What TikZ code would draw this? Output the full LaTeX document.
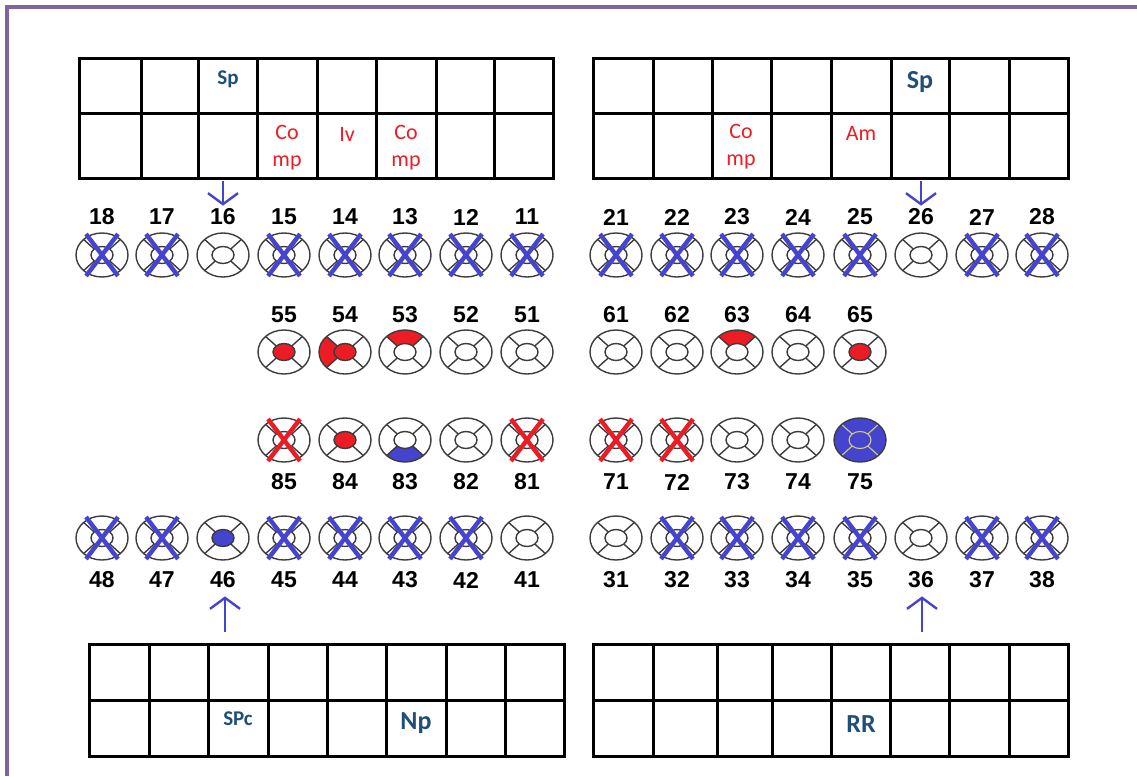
\documentclass[tikz,border=0pt]{standalone}
\usepackage{fontspec}
\setmainfont{Liberation Sans}
\newfontfamily\carlito{Carlito}
\usetikzlibrary{arrows.meta}
\definecolor{dkblue}{RGB}{31,78,121}
\definecolor{mred}{RGB}{237,28,36}
\definecolor{mblue}{RGB}{68,68,208}
\definecolor{purp}{RGB}{128,100,162}
\definecolor{tline}{RGB}{60,60,60}
\definecolor{lightline}{RGB}{205,200,160}
\newcommand\tth[4]{%
  \begin{scope}[shift={(#1,#2)},yscale=-1]
  #3
  \draw[toothline] (0,0) ellipse[x radius=26,y radius=22];
  \draw[toothline] (0,0) ellipse[x radius=11,y radius=8.5];
  \foreach \a in {45,135,225,315}{\draw[toothline] ({11*cos(\a)},{8.5*sin(\a)}) -- ({26*cos(\a)},{22*sin(\a)});}
  #4
  \end{scope}}
\newcommand\bX{\draw[bxline] (-16,21) -- (16,-21) (16,21) -- (-16,-21);}
\newcommand\rX{\draw[rxline] (-16,21) -- (16,-21) (16,21) -- (-16,-21);}
\newcommand\cen[1]{\fill[#1] (0,0) ellipse[x radius=11,y radius=8.5];}
\newcommand\sg[3]{\fill[#1] (#2:26 and 22) arc[start angle=#2,end angle=#3,x radius=26,y radius=22] -- (#3:11 and 8.5) arc[start angle=#3,end angle=#2,x radius=11,y radius=8.5] -- cycle;}
\begin{document}
\begin{tikzpicture}[x=1pt,y=-1pt,
  toothline/.style={draw=tline,line width=1.4pt},
  bxline/.style={draw=mblue,line width=4.4pt},
  rxline/.style={draw=mred,line width=4.4pt},
  num/.style={inner sep=0pt,font=\fontsize{23}{23}\selectfont\bfseries},
  gridline/.style={draw=black,line width=3pt},
  dk/.style={inner sep=0pt,text=dkblue,font=\carlito\bfseries\fontsize{21}{21}\selectfont},
  dkbig/.style={inner sep=0pt,text=dkblue,font=\carlito\bfseries\fontsize{26}{26}\selectfont},
  rd/.style={inner sep=0pt,text=mred,align=center,font=\carlito\fontsize{22}{27}\selectfont},
  arr/.style={draw=mblue,line width=2.4pt,-{Straight Barb[length=11pt,width=30pt]}}]
\useasboundingbox (0,0) rectangle (1137,776);
% border
\draw[purp,line width=3.5pt] (7,776) -- (7,7) -- (1137,7);
% grids
\draw[gridline] (79,59) rectangle (553,178) (79,113) -- (553,113);
\foreach \x in {141,198,257,317,376,436,494} \draw[gridline] (\x,59) -- (\x,178);
\draw[gridline] (593,59) rectangle (1068,178) (593,113) -- (1068,113);
\foreach \x in {653,712,771,831,891,949,1009} \draw[gridline] (\x,59) -- (\x,178);
\draw[gridline] (89,644) rectangle (564,756) (89,700) -- (564,700);
\foreach \x in {149,208,268,327,386,446,505} \draw[gridline] (\x,644) -- (\x,756);
\draw[gridline] (593,644) rectangle (1068,756) (593,700) -- (1068,700);
\foreach \x in {653,717,772,831,890,949,1009} \draw[gridline] (\x,644) -- (\x,756);
% grid texts
\node[dk] (tSpL) at (228,79) {Sp};
\node[dkbig] (tSpR) at (920,82) {Sp};
\node[rd] (tCo1) at (287,148) {Co\\mp};
\node[rd] (tIv) at (347,134) {Iv};
\node[rd] (tCo2) at (406,148) {Co\\mp};
\node[rd] (tCo3) at (741,147) {Co\\mp};
\node[rd] (tAm) at (861,133) {Am};
\node[dk] (tSPc) at (238,719) {SPc};
\node[dkbig] (tNp) at (416,723) {Np};
\node[dkbig] (tRR) at (861,724) {RR};
% upper permanent teeth
\foreach \x in {102,162,284,345,405,466,527,616,677,737,798,860,982,1042} {\tth{\x}{255}{}{\bX}}
\tth{223}{255}{}{}
\tth{921}{255}{}{}
\foreach \n/\x in {18/102,17/162,16/223,15/284,14/345,13/405,12/466,11/527,21/616,22/677,23/737,24/798,25/860,26/921,27/982,28/1042}
  \node[num] (n\n) at (\x,217) {\n};
% upper milk teeth
\tth{284}{352}{\cen{mred}}{}
\tth{345}{352}{\sg{mred}{135}{225}\cen{mred}}{}
\tth{405}{352}{\sg{mred}{45}{135}}{}
\tth{466}{352}{}{}
\tth{527}{352}{}{}
\tth{616}{352}{}{}
\tth{677}{352}{}{}
\tth{737}{352}{\sg{mred}{45}{135}}{}
\tth{798}{352}{}{}
\tth{860}{352}{\cen{mred}}{}
\foreach \n/\x in {55/284,54/345,53/405,52/466,51/527,61/616,62/677,63/737,64/798,65/860}
  \node[num] (n\n) at (\x,315) {\n};
% lower milk teeth
\tth{284}{440}{}{\rX}
\tth{345}{440}{\cen{mred}}{}
\tth{405}{440}{\sg{mblue}{225}{315}}{}
\tth{466}{440}{}{}
\tth{527}{440}{}{\rX}
\tth{616}{440}{}{\rX}
\tth{677}{440}{}{\rX}
\tth{737}{440}{}{}
\tth{798}{440}{}{}
\tth{860}{440}{\fill[mblue] (0,0) ellipse[x radius=26,y radius=22];}{\draw[lightline,line width=1.2pt] (0,0) ellipse[x radius=11,y radius=8.5]; \foreach \a in {45,135,225,315}{\draw[lightline,line width=1.2pt] ({11*cos(\a)},{8.5*sin(\a)}) -- ({25*cos(\a)},{21*sin(\a)});}}
\foreach \n/\x in {85/284,84/345,83/405,82/466,81/527,71/616,72/677,73/737,74/798,75/860}
  \node[num] (n\n) at (\x,482) {\n};
% lower permanent teeth
\foreach \x in {102,162,284,345,405,466,677,737,798,860,982,1042} {\tth{\x}{538}{}{\bX}}
\tth{223}{538}{\cen{mblue}}{}
\tth{527}{538}{}{}
\tth{616}{538}{}{}
\tth{921}{538}{}{}
\foreach \n/\x in {48/102,47/162,46/223,45/284,44/345,43/405,42/466,41/527,31/616,32/677,33/737,34/798,35/860,36/921,37/982,38/1042}
  \node[num] (n\n) at (\x,580) {\n};
% arrows
\coordinate (a16) at (223,181);
\coordinate (a26) at (921,181);
\coordinate (a46) at (225,632);
\coordinate (a36) at (922,632);
\draw[arr,shorten >=3pt] (a16) -- (a16 |- n16.north);
\draw[arr,shorten >=3pt] (a26) -- (a26 |- n26.north);
\draw[arr,shorten >=8pt] (a46) -- (a46 |- n46.south);
\draw[arr,shorten >=8pt] (a36) -- (a36 |- n36.south);
\end{tikzpicture}
\end{document}
